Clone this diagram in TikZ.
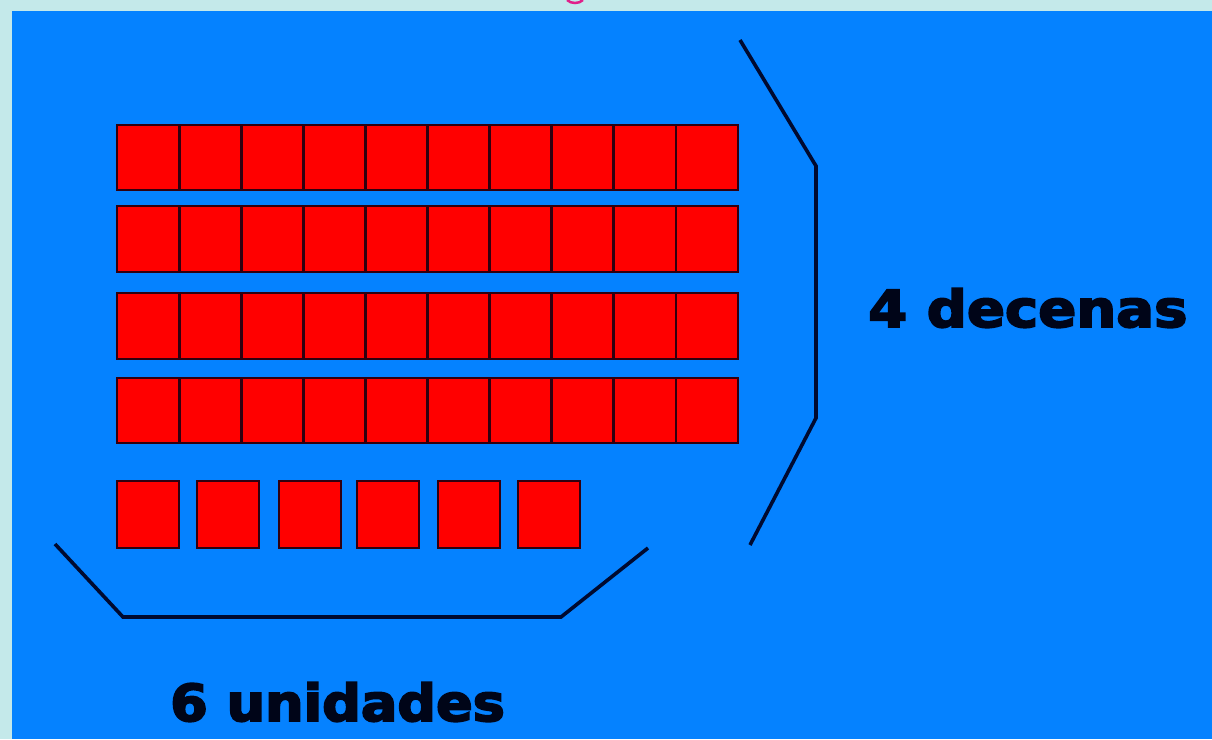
\documentclass[tikz,border=0pt]{standalone}
\usepackage{fontspec}
\setmainfont{DejaVu Sans}
\newfontfamily\heavyfont{DejaVu Sans Bold}[FakeBold=3.5]
\definecolor{paleBg}{HTML}{C4E9EA}
\definecolor{boardBlue}{HTML}{0582FF}
\definecolor{cellRed}{HTML}{FF0000}
\definecolor{cellEdge}{HTML}{300010}
\definecolor{braceInk}{HTML}{000A30}
\definecolor{labelInk}{HTML}{000518}
\definecolor{titlePink}{HTML}{E0208A}
\tikzset{
  cell/.style={draw=cellEdge, fill=cellRed, line width=2.8pt},
  bracketline/.style={draw=braceInk, line width=3.6pt, line join=miter},
  label/.style={font=\heavyfont\fontsize{51}{51}\selectfont, text=labelInk, inner sep=0pt, anchor=base west},
}
\begin{document}
\begin{tikzpicture}[x=1pt,y=-1pt]
\useasboundingbox (0,0) rectangle (1212,739);
\fill[paleBg] (0,0) rectangle (1212,739);
\fill[boardBlue] (12,11) rectangle (1212,739);
% pink fragment of a cut-off title
\draw[titlePink, line width=2.5pt] (567,0) .. controls (571,4) and (579,4) .. (583,0);
% tens: four rows of ten
\foreach \top/\bot [count=\r] in {125/190, 206/272, 293/359, 378/443}{
  \foreach \i in {0,...,9}{
    \path[cell] ({117+62.1*\i},\top) rectangle ({117+62.1*(\i+1)},\bot);
  }
}
% units
\foreach \l/\rr [count=\k] in {117/179, 197/259, 279/341, 357/419, 438/500, 518/580}{
  \path[cell] (\l,481) rectangle (\rr,548);
}
% right bracket
\coordinate (rtA) at (740,40);
\coordinate (rtB) at (816,166);
\coordinate (rtC) at (816,418);
\coordinate (rtD) at (750,545);
\draw[bracketline] (rtA) -- (rtB) -- (rtC) -- (rtD);
% bottom bracket
\coordinate (btA) at (55,544);
\coordinate (btB) at (123,617);
\coordinate (btC) at (561,617);
\coordinate (btD) at (648,548);
\draw[bracketline] (btA) -- (btB) -- (btC) -- (btD);
% labels
\node[label, xscale=1.1] (dec) at (868,327) {4 decenas};
\node[label, xscale=1.06] (uni) at (170,721) {6 unidades};
\end{tikzpicture}
\end{document}
